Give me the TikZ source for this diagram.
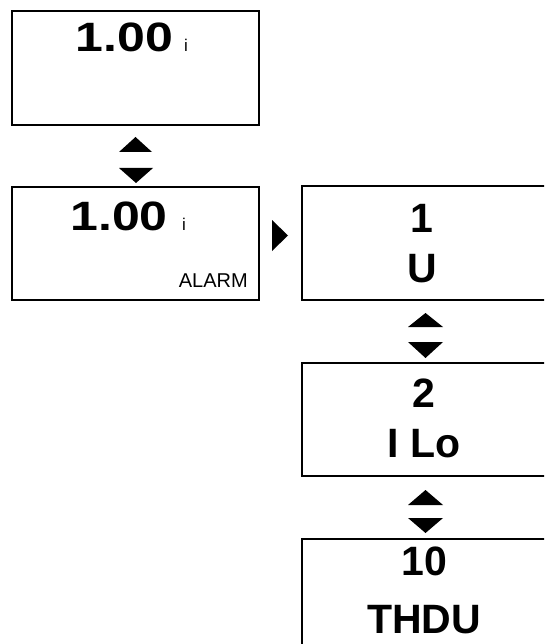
\documentclass[tikz,border=0pt]{standalone}
\usepackage{fontspec}
\setmainfont{Liberation Sans}
\begin{document}
\begin{tikzpicture}[x=1pt,y=-1pt,
  screen/.style={draw=black,line width=1.6pt,rectangle,anchor=north west,inner sep=0pt,minimum width=#1},
  big/.style={anchor=base,inner sep=0pt,font=\fontsize{41}{41}\selectfont\bfseries},
  wide/.style={anchor=base,inner sep=0pt,font=\fontsize{41}{41}\selectfont\bfseries},
  small/.style={anchor=base west,inner sep=0pt,font=\fontsize{17}{17}\selectfont},
  alarm/.style={anchor=base east,inner sep=0pt,font=\fontsize{20}{20}\selectfont},
  tri/.style={fill=black,draw=none}]
\useasboundingbox (0,0) rectangle (544,644);
\clip (0,0) rectangle (544,644);
% left column
\node[screen=247pt,minimum height=114pt] (s1) at (11,10) {};
\node[screen=247pt,minimum height=113pt] (s2) at (11,186) {};
\node[wide] (v1) at (124.5,52) {\scalebox{1.22}[1]{1.00}};
\node[small] (i1) at (184,52) {i};
\node[wide] (v2) at (119,230) {\scalebox{1.22}[1]{1.00}};
\node[small] (i2) at (182,230) {i};
\node[alarm] (al) at (248,287) {ALARM};
% right column
\node[screen=250pt,minimum height=114pt] (m1) at (301,185) {};
\node[screen=250pt,minimum height=113pt] (m2) at (301,362) {};
\node[screen=250pt,minimum height=120pt] (m3) at (301,538) {};
\node[big] (n1) at (422,232) {1};
\node[big] (t1) at (422,282) {U};
\node[big] (n2) at (424,407) {2};
\node[big] (t2) at (424,457) {I Lo};
\node[big] (n3) at (424,575) {10};
\node[big] (t3) at (424,633) {THDU};
% arrow triangles
\fill[tri] (119,152) -- (152,152) -- (135.5,137) -- cycle;
\fill[tri] (119,168) -- (153,168) -- (136,183) -- cycle;
\fill[tri] (272,220) -- (288,235.5) -- (272,251) -- cycle;
\fill[tri] (408,327) -- (443,327) -- (425.5,313) -- cycle;
\fill[tri] (408,342) -- (443,342) -- (425.5,358) -- cycle;
\fill[tri] (408,505) -- (443,505) -- (425.5,490) -- cycle;
\fill[tri] (408,518) -- (443,518) -- (425.5,533) -- cycle;
\end{tikzpicture}
\end{document}
